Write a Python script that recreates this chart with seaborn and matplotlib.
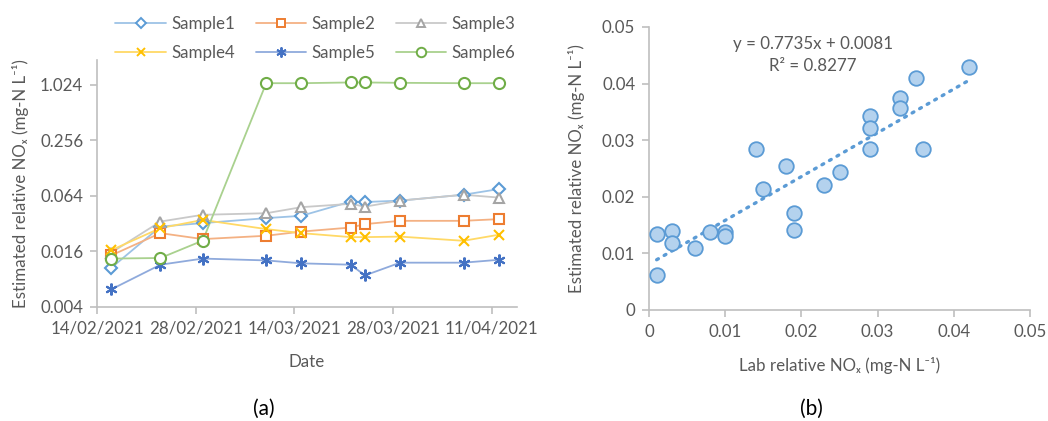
import numpy as np
import pandas as pd
import matplotlib
matplotlib.use("Agg")
import matplotlib.pyplot as plt
import matplotlib.dates as mdates
from matplotlib.ticker import FixedLocator, FixedFormatter, NullLocator
from matplotlib.lines import Line2D
import seaborn as sns

# ---- data -------------------------------------------------------------
dates = ["2021-02-16", "2021-02-23", "2021-03-01", "2021-03-10", "2021-03-15",
         "2021-03-22", "2021-03-24", "2021-03-29", "2021-04-07", "2021-04-12"]
sample1 = [0.0106, 0.0298, 0.0325, 0.0368, 0.0390, 0.0557, 0.0550, 0.0570, 0.0660, 0.0760]
sample2 = [0.0145, 0.0253, 0.0218, 0.0237, 0.0263, 0.0291, 0.0317, 0.0344, 0.0344, 0.0359]
sample3 = [0.0155, 0.0338, 0.0400, 0.0416, 0.0484, 0.0526, 0.0490, 0.0570, 0.0660, 0.0615]
sample4 = [0.0165, 0.0287, 0.0352, 0.0280, 0.0253, 0.0229, 0.0229, 0.0232, 0.0209, 0.0243]
sample5 = [0.0062, 0.0115, 0.0134, 0.0128, 0.0119, 0.0115, 0.0088, 0.0121, 0.0121, 0.0130]
sample6 = [0.0134, 0.0136, 0.0210, 1.07, 1.07, 1.09, 1.09, 1.08, 1.07, 1.07]
sample_names = ["Sample1", "Sample2", "Sample3", "Sample4", "Sample5", "Sample6"]

y_ticks = [0.004, 0.016, 0.064, 0.256, 1.024]
y_tick_labels = ["0.004", "0.016", "0.064", "0.256", "1.024"]
x_tick_dates = ["2021-02-14", "2021-02-28", "2021-03-14", "2021-03-28", "2021-04-11"]

lab_nox = [0.001, 0.001, 0.003, 0.003, 0.006, 0.008, 0.010, 0.010, 0.014, 0.015,
           0.018, 0.019, 0.019, 0.023, 0.025, 0.029, 0.029, 0.029, 0.033, 0.033,
           0.035, 0.036, 0.042]
est_nox = [0.0135, 0.0062, 0.0140, 0.0118, 0.0110, 0.0137, 0.0137, 0.0131, 0.0284, 0.0214,
           0.0254, 0.0172, 0.0141, 0.0220, 0.0243, 0.0342, 0.0321, 0.0285, 0.0375, 0.0356,
           0.0409, 0.0284, 0.0429]
slope, intercept, r2 = 0.7735, 0.0081, 0.8277

# ---- styling ----------------------------------------------------------
sns.set_theme(style="white")
plt.rcParams["font.family"] = ["Lato", "DejaVu Sans"]
text_col = "#595959"
axis_col = "#bfbfbf"
fs = 12.2

colors = ["#5B9BD5", "#ED7D31", "#A5A5A5", "#FFC000", "#4472C4", "#70AD47"]
line_cols = ["#9DC3E6", "#F4B183", "#C9C9C9", "#FFD966", "#8FAADC", "#A9D18E"]
markers = ["D", "s", "^", "x", (6, 2, 0), "o"]
msizes = [6, 7.5, 7.5, 7.5, 8.5, 8]

fig = plt.figure(figsize=(10.48, 4.21), dpi=100)
ax1 = fig.add_axes([0.0926, 0.2708, 0.4007, 0.5867])
ax2 = fig.add_axes([0.6193, 0.2637, 0.3635, 0.6722])

# ---- (a) time series --------------------------------------------------
series = [sample1, sample2, sample3, sample4, sample5, sample6]
df = pd.DataFrame({
    "Date": np.tile(pd.to_datetime(dates), len(series)),
    "NOx": np.concatenate(series),
    "Sample": np.repeat(sample_names, len(dates)),
})

handles = []
for name, col, lcol, mk, ms in zip(sample_names, colors, line_cols, markers, msizes):
    sub = df[df["Sample"] == name]
    sns.lineplot(data=sub, x="Date", y="NOx", ax=ax1, color=lcol, lw=1.3,
                 legend=False, zorder=2)
    filled = mk in ("x", (6, 2, 0))
    ax1.plot(sub["Date"], sub["NOx"], ls="none", marker=mk, ms=ms,
             mfc=col if filled else "white", mec=col, mew=1.5, zorder=3)
    handles.append(Line2D([0], [0], color=lcol, lw=1.3, marker=mk, ms=ms * 0.85,
                          mfc=col if filled else "white", mec=col, mew=1.4,
                          label=name))

ax1.set_yscale("log", base=4)
ax1.set_ylim(0.004, 1.024 * 4 ** (25 / 55.6))
ax1.yaxis.set_major_locator(FixedLocator(y_ticks))
ax1.yaxis.set_major_formatter(FixedFormatter(y_tick_labels))
ax1.yaxis.set_minor_locator(NullLocator())
ax1.set_xlim(pd.Timestamp("2021-02-14"), pd.Timestamp("2021-04-14 14:00"))
ax1.set_xticks(pd.to_datetime(x_tick_dates))
ax1.xaxis.set_major_formatter(mdates.DateFormatter("%d/%m/%Y"))
ax1.set_xlabel("Date", color=text_col, fontsize=fs, labelpad=12)
ax1.set_ylabel("Estimated relative NOₓ (mg-N L⁻¹)", color=text_col, fontsize=fs,
               labelpad=8)

# legend fills row by row: reorder for matplotlib's column-major layout
ncol = 3
order = [r * ncol + c for c in range(ncol) for r in range(2)]
leg = ax1.legend(handles=[handles[i] for i in order], ncol=ncol, loc="lower center",
                 bbox_to_anchor=(0.52, 0.97), frameon=False, fontsize=fs,
                 handlelength=3.0, columnspacing=1.2, labelspacing=0.75,
                 handletextpad=0.3, borderaxespad=0.0)
for t in leg.get_texts():
    t.set_color(text_col)

# ---- (b) scatter with linear trend ------------------------------------
sns.scatterplot(x=lab_nox, y=est_nox, ax=ax2, s=110, color="#B4D2EE",
                edgecolor="#5B9BD5", linewidth=1.3, zorder=3)
fit_x = np.array([min(lab_nox), max(lab_nox)])
ax2.plot(fit_x, slope * fit_x + intercept, ls=(0, (0.6, 2.0)), lw=2.4,
         color="#5B9BD5", dash_capstyle="round", zorder=2)
ax2.text(0.0215, 0.0470, f"y = {slope}x + {intercept}", ha="center", va="center",
         color=text_col, fontsize=fs)
ax2.text(0.0215, 0.0431, f"R² = {r2}", ha="center", va="center",
         color=text_col, fontsize=fs)

ax2.set_xlim(0, 0.05)
ax2.set_ylim(0, 0.05)
ax2.set_xticks([0, 0.01, 0.02, 0.03, 0.04, 0.05])
ax2.set_xticklabels(["0", "0.01", "0.02", "0.03", "0.04", "0.05"])
ax2.set_yticks([0, 0.01, 0.02, 0.03, 0.04, 0.05])
ax2.set_yticklabels(["0", "0.01", "0.02", "0.03", "0.04", "0.05"])
ax2.set_xlabel("Lab relative NOₓ (mg-N L⁻¹)", color=text_col, fontsize=fs,
               labelpad=12)
ax2.set_ylabel("Estimated relative NOₓ (mg-N L⁻¹)", color=text_col, fontsize=fs,
               labelpad=12)

for ax in (ax1, ax2):
    for side in ("top", "right"):
        ax.spines[side].set_visible(False)
    for side in ("left", "bottom"):
        ax.spines[side].set_color(axis_col)
        ax.spines[side].set_linewidth(1.2)
    ax.tick_params(axis="both", which="major", direction="out", length=5,
                   width=1.2, color=axis_col, labelcolor=text_col,
                   labelsize=fs, left=True, bottom=True, pad=5)
    ax.set_facecolor("white")
    ax.patch.set_alpha(0)

fig.text(0.252, 0.03, "(a)", ha="center", va="center", fontsize=15, color="black")
fig.text(0.774, 0.03, "(b)", ha="center", va="center", fontsize=15, color="black")

fig.savefig("out.png", dpi=100, facecolor="white")
